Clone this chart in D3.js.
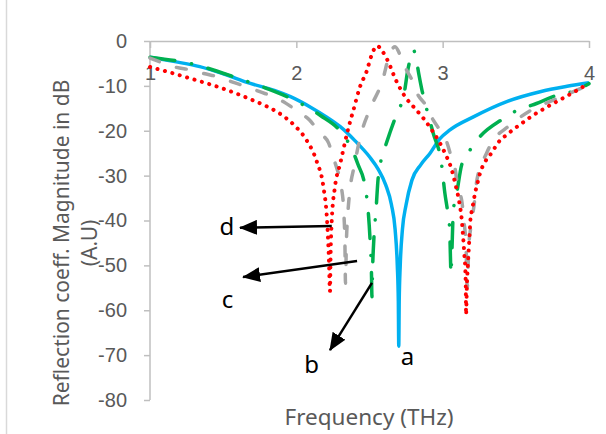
<!DOCTYPE html>
<html>
<head>
<meta charset="UTF-8">
<title>Reflection coefficient</title>
<script src="https://cdn.jsdelivr.net/npm/d3@7"></script>
<style>
body { margin: 0; background: #fff; }
svg { font-family: "Noto Sans", "Open Sans", sans-serif; }
.axis path, .axis line { stroke: #BFBFBF; stroke-width: 1.5px; }
.axis text { fill: #595959; font-size: 20px; }
.curve { fill: none; stroke-width: 3.5px; }
</style>
</head>
<body>
<svg id="chart" width="606" height="434"></svg>
<script>
// ticks
var xTicks = [1, 2, 3, 4];
var yTicks = [0, -10, -20, -30, -40, -50, -60, -70, -80];

// [frequency THz, dB]
var curveA = [[1.00,-3.6],[1.17,-4.6],[1.34,-5.7],[1.50,-7.3],[1.68,-9.4],[1.85,-11.0],[1.96,-12.4],
  [2.10,-14.8],[2.20,-16.8],[2.30,-19.1],[2.40,-22.2],[2.50,-25.8],[2.56,-28.6],[2.61,-32.0],
  [2.65,-36.5],[2.675,-42],[2.69,-50],[2.697,-58],[2.70,-68],[2.703,-58],[2.71,-50],[2.725,-42],
  [2.75,-36.5],[2.79,-31],[2.85,-27.6],[2.914,-25],[2.98,-21.8],[3.05,-19.8],[3.21,-16.9],
  [3.438,-13.5],[3.666,-11.3],[3.85,-10.1],[4.00,-9.3]];

var curveB = [[1.00,-3.6],[1.30,-5.2],[1.60,-8.3],[1.80,-10.6],[1.98,-13.1],[2.16,-16.5],[2.32,-20.9],
  [2.38,-24.1],[2.42,-27.4],[2.47,-32.5],[2.49,-37.5],[2.505,-45],[2.513,-51],[2.517,-57],
  [2.521,-51],[2.53,-44],[2.545,-37.5],[2.56,-30.3],[2.606,-23.8],[2.64,-20.4],[2.675,-17.2],
  [2.743,-10.5],[2.759,-7.0],[2.78,-3.8],[2.80,-2.0],[2.818,-3.8],[2.836,-7.2],[2.857,-10.7],
  [2.88,-13.8],[2.935,-20.5],[2.993,-27.6],[3.015,-33.9],[3.033,-37.8],[3.048,-42],[3.053,-48],
  [3.057,-52],[3.062,-48],[3.073,-37.8],[3.096,-33.9],[3.13,-27.6],[3.187,-24.3],[3.25,-21.5],
  [3.41,-17.4],[3.506,-15.5],[3.61,-14.3],[3.80,-11.9],[3.905,-11.1],[4.00,-9.5]];

var curveC = [[1.00,-3.8],[1.09,-4.9],[1.17,-5.8],[1.285,-6.5],[1.36,-7.2],[1.48,-8.1],[1.56,-9.1],
  [1.66,-10.2],[1.75,-11.3],[1.85,-12.5],[1.93,-13.9],[2.01,-15.7],[2.09,-17.6],[2.16,-20.5],
  [2.22,-22.7],[2.25,-25.8],[2.276,-28.3],[2.31,-33],[2.325,-38.5],[2.332,-45],[2.336,-54],
  [2.342,-45],[2.352,-38.5],[2.367,-33],[2.395,-28],[2.44,-21],[2.50,-15.4],[2.59,-8.7],
  [2.64,-2.7],[2.675,-1.3],[2.709,-3.1],[2.743,-5.8],[2.79,-8.7],[2.82,-11.3],[2.89,-14.6],
  [2.935,-17.6],[2.98,-19.8],[3.03,-22.7],[3.06,-26],[3.085,-28.5],[3.105,-33],[3.13,-35.5],
  [3.145,-40],[3.16,-46],[3.168,-55],[3.178,-46],[3.19,-42],[3.215,-36.5],[3.234,-31],
  [3.30,-25],[3.335,-22.7],[3.45,-19],[3.60,-15.5],[3.77,-13],[3.92,-10.9],[4.00,-9.8]];

var curveD = [[1.00,-5.8],[1.137,-7.0],[1.25,-8.1],[1.364,-9.2],[1.48,-10.4],[1.59,-11.7],[1.695,-13.1],
  [1.80,-14.6],[1.91,-16.7],[1.996,-19.1],[2.07,-22.1],[2.14,-26.9],[2.185,-32.5],[2.21,-40],
  [2.222,-48],[2.23,-55.7],[2.234,-48],[2.242,-40],[2.264,-32.5],[2.30,-27.3],[2.355,-19.5],
  [2.39,-15.4],[2.435,-10.2],[2.48,-6.8],[2.515,-3.1],[2.55,-1.1],[2.617,-3.9],[2.686,-9.1],
  [2.743,-12.4],[2.81,-15],[2.868,-17.2],[2.925,-19.8],[2.97,-22.1],[3.016,-25],[3.06,-28.5],
  [3.09,-32.3],[3.114,-36],[3.13,-39.7],[3.14,-43.7],[3.148,-47.5],[3.155,-51.2],[3.158,-55],
  [3.16,-61],[3.165,-55],[3.172,-50],[3.183,-43.7],[3.19,-39.7],[3.198,-38],[3.21,-36],
  [3.22,-34.1],[3.233,-32.3],[3.255,-29.5],[3.29,-26.9],[3.324,-25.4],[3.358,-23.7],[3.39,-22.2],
  [3.438,-20.9],[3.483,-19.7],[3.53,-18.6],[3.58,-17.4],[3.63,-16.3],[3.677,-15.4],[3.73,-14.4],
  [3.78,-13.5],[3.83,-12.6],[3.88,-11.7],[3.934,-10.7],[4.00,-9.4]];

// annotation letters and arrows, in data coordinates
var letters = [["d",1.526,-43.2],["c",1.53,-59.5],["b",2.104,-74],["a",2.76,-72.2]];
var arrows = [[[2.242,-41.2],[1.615,-41.6]], [[2.415,-49.0],[1.636,-52.6]], [[2.517,-53.9],[2.23,-68.9]]];

var svg = d3.select("#chart");
var x = d3.scaleLinear().domain([1, 4]).range([150, 589]);
var y = d3.scaleLinear().domain([0, -80]).range([41, 400]);

// chart frame edge on the left
svg.append("line").attr("x1", 6.5).attr("x2", 6.5).attr("y1", 0).attr("y2", 434)
   .attr("stroke", "#D9D9D9").attr("stroke-width", 1.5);

// plain hyphen minus, as in the original
var fmt = function(d) { return String(d); };

svg.append("g").attr("class", "axis")
   .attr("transform", "translate(150,0)")
   .call(d3.axisLeft(y).tickValues(yTicks).tickSize(6).tickSizeOuter(0).tickPadding(17).tickFormat(fmt))
   .call(function(g) { g.select(".domain").remove(); });
svg.append("line").attr("x1", 150).attr("x2", 150).attr("y1", 41).attr("y2", 400)
   .attr("stroke", "#BFBFBF").attr("stroke-width", 1.5);

svg.append("g").attr("class", "axis")
   .attr("transform", "translate(0,41)")
   .call(d3.axisBottom(x).tickValues(xTicks).tickSize(7).tickSizeOuter(0).tickPadding(18).tickFormat(fmt));

var line = d3.line()
             .x(function(d) { return x(d[0]); })
             .y(function(d) { return y(d[1]); })
             .curve(d3.curveMonotoneX);

svg.append("path").attr("class", "curve").attr("d", line(curveA))
   .attr("stroke", "#00B0F0");
svg.append("path").attr("class", "curve").attr("d", line(curveB))
   .attr("stroke", "#00B050").attr("stroke-linecap", "round")
   .style("stroke-dasharray", "25,17,0.1,17");
svg.append("path").attr("class", "curve").attr("d", line(curveC))
   .attr("stroke", "#A5A5A5").attr("stroke-linecap", "round")
   .style("stroke-dasharray", "10,18");
svg.append("path").attr("class", "curve").attr("d", line(curveD))
   .attr("stroke", "#FF0000").attr("stroke-linecap", "round").style("stroke-width", "4px")
   .style("stroke-dasharray", "0.1,7.6");

// arrows
svg.append("defs").append("marker")
   .attr("id", "head").attr("markerUnits", "userSpaceOnUse")
   .attr("markerWidth", 18).attr("markerHeight", 15)
   .attr("refX", 17).attr("refY", 7.5).attr("orient", "auto")
   .append("path").attr("d", "M0,0L18,7.5L0,15Z").attr("fill", "#000");

svg.selectAll(".arrow").data(arrows).enter().append("line")
   .attr("class", "arrow")
   .attr("x1", function(d) { return x(d[0][0]); })
   .attr("y1", function(d) { return y(d[0][1]); })
   .attr("x2", function(d) { return x(d[1][0]); })
   .attr("y2", function(d) { return y(d[1][1]); })
   .attr("stroke", "#000").attr("stroke-width", 2.5)
   .attr("marker-end", "url(#head)");

svg.selectAll(".letter").data(letters).enter().append("text")
   .attr("class", "letter")
   .attr("x", function(d) { return x(d[1]); })
   .attr("y", function(d) { return y(d[2]); })
   .attr("text-anchor", "middle").attr("font-size", 24).attr("fill", "#000")
   .text(function(d) { return d[0]; });

// axis titles
svg.append("text").attr("x", 369).attr("y", 425).attr("text-anchor", "middle")
   .attr("font-size", 22.5).attr("fill", "#595959").text("Frequency (THz)");

var yt = svg.append("text").attr("transform", "translate(62,243) rotate(-90)")
   .attr("text-anchor", "middle").attr("font-size", 21).attr("fill", "#595959");
yt.append("tspan").attr("x", 0).attr("y", 7).text("Reflection coeff. Magnitude in dB");
yt.append("tspan").attr("x", 0).attr("y", 35).text("(A.U)");
</script>
</body>
</html>
